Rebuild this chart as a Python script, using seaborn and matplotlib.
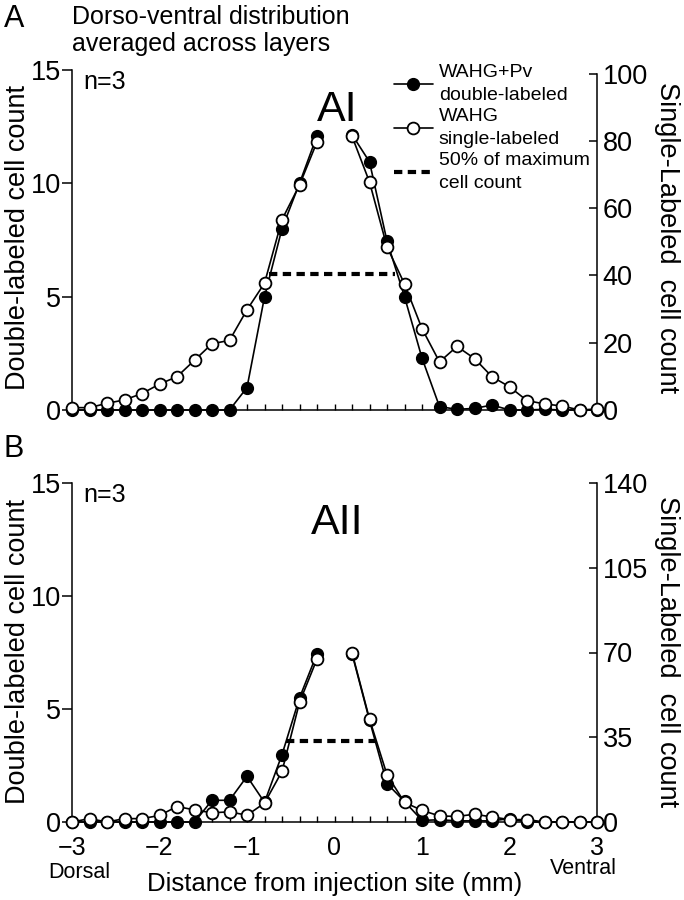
import numpy as np
import pandas as pd
import matplotlib
matplotlib.use("Agg")
import matplotlib.pyplot as plt
from matplotlib.lines import Line2D
from matplotlib.ticker import MultipleLocator
import seaborn as sns

# ---------------- data ----------------
positions = [-3.0, -2.8, -2.6, -2.4, -2.2, -2.0, -1.8, -1.6, -1.4, -1.2, -1.0, -0.8, -0.6, -0.4, -0.2,
             0.2, 0.4, 0.6, 0.8, 1.0, 1.2, 1.4, 1.6, 1.8, 2.0, 2.2, 2.4, 2.6, 2.8, 3.0]

A_double = [0, 0, 0, 0, 0, 0, 0, 0, 0, 0, 0.99, 4.99, 8.0, 10.0, 12.1,
            12.15, 10.95, 7.45, 5.0, 2.29, 0.15, 0.03, 0.07, 0.22, 0, 0, 0.03, 0, 0, 0]
A_single = [0.7, 0.7, 2.0, 3.0, 4.9, 7.7, 9.9, 14.8, 19.7, 20.7, 29.8, 37.7, 56.6, 66.9, 79.7,
            81.4, 67.8, 48.5, 37.5, 24.2, 14.3, 18.9, 15.3, 9.9, 6.9, 2.8, 1.8, 1.2, 0, 0.3]
A_half_value = 6.0
A_half_span = [-0.75, 0.69]

B_double = [0, 0, 0, 0, 0, 0, 0, 0, 0.96, 0.96, 2.02, 0.87, 2.98, 5.49, 7.45,
            7.45, 4.5, 1.70, 0.91, 0.07, 0.1, 0.05, 0.05, 0.05, 0.15, 0, 0, 0, 0, 0]
B_single = [0, 1.4, 0, 1.4, 1.4, 2.7, 6.4, 5.0, 3.8, 4.2, 2.8, 7.8, 20.9, 49.4, 67.3,
            70.0, 42.5, 19.5, 8.1, 4.8, 2.5, 2.3, 3.2, 2.1, 1.0, 1.0, 0, 0, 0, 0]
B_half_value = 3.6
B_half_span = [-0.55, 0.46]

left_ticks = [0, 5, 10, 15]
A_right_ticks = [0, 20, 40, 60, 80, 100]
B_right_ticks = [0, 35, 70, 105, 140]
x_ticks = [-3, -2, -1, 0, 1, 2, 3]

legend_labels = ["WAHG+Pv\ndouble-labeled", "WAHG\nsingle-labeled", "50% of maximum\ncell count"]

# ---------------- style ----------------
sns.set_style("ticks")
plt.rcParams["font.family"] = ["Liberation Sans", "DejaVu Sans"]
for key in ("text.color", "axes.labelcolor", "xtick.color", "ytick.color", "axes.edgecolor"):
    plt.rcParams[key] = "black"
plt.rcParams["axes.linewidth"] = 1.1

W, H = 684, 900
fig = plt.figure(figsize=(W / 100, H / 100), dpi=100)


def fx(px):
    return px / W


def fy(py):
    return 1 - py / H


def panel(top_px, bottom_px, dbl, sgl, rticks, rtop, half_val, half_span, title, show_xlabels):
    ax = fig.add_axes([fx(72), fy(bottom_px), fx(597) - fx(72), fy(top_px) - fy(bottom_px)])
    df = pd.DataFrame({"x": positions, "double": dbl, "single": sgl})
    df["side"] = np.where(df["x"] < 0, "dorsal", "ventral")

    sns.lineplot(data=df, x="x", y="double", units="side", estimator=None, ax=ax,
                 color="black", lw=1.2, marker="o", markersize=8.5,
                 markerfacecolor="black", markeredgecolor="black", markeredgewidth=1.0,
                 clip_on=False, legend=False, zorder=3)
    sns.lineplot(x=half_span, y=[half_val, half_val], ax=ax, color="black", lw=3.0,
                 ls=(0, (2.0, 1.3)), legend=False, zorder=2)

    ax2 = ax.twinx()
    sns.lineplot(data=df, x="x", y="single", units="side", estimator=None, ax=ax2,
                 color="black", lw=1.2, marker="o", markersize=8.5,
                 markerfacecolor="white", markeredgecolor="black", markeredgewidth=1.3,
                 clip_on=False, legend=False, zorder=3)

    ax.set_xlim(-3, 3)
    ax.set_ylim(0, 15)
    ax2.set_ylim(0, rtop)
    ax.set_yticks(left_ticks)
    ax2.set_yticks(rticks)
    ax.set_xticks(x_ticks)
    ax.xaxis.set_minor_locator(MultipleLocator(0.2))
    ax.set_xlabel("")
    ax.set_ylabel("")
    ax2.set_ylabel("")
    ax2.set_xlabel("")

    for a in (ax, ax2):
        a.spines["top"].set_visible(False)
        for s in a.spines.values():
            s.set_linewidth(1.1)
            s.set_color("black")
    ax.spines["right"].set_visible(False)
    ax2.spines["left"].set_visible(False)
    ax2.spines["bottom"].set_visible(False)
    ax2.spines["right"].set_bounds(0, rticks[-1])

    ax.tick_params(axis="y", direction="out", length=7, width=1.1, labelsize=19.5, pad=1)
    ax2.tick_params(axis="y", direction="in", length=6, width=1.1, labelsize=19.5, pad=4)
    ax.tick_params(axis="x", which="both", direction="in", length=4, width=1.0,
                   labelsize=18, pad=10, labelbottom=show_xlabels)

    ax.text(0.022, 1.0, "n=3", transform=ax.transAxes, fontsize=18, va="top", ha="left")
    ax.text(0.505, 0.94, title, transform=ax.transAxes, fontsize=31, va="top", ha="center")
    return ax, ax2


axA, axA2 = panel(70, 410, A_double, A_single, A_right_ticks, 101.1,
                  A_half_value, A_half_span, "AI", False)
axB, axB2 = panel(483, 822, B_double, B_single, B_right_ticks, 140,
                  B_half_value, B_half_span, "AII", True)

# legend
handles = [
    Line2D([], [], color="black", lw=1.2, marker="o", markersize=8.5,
           markerfacecolor="black", markeredgecolor="black"),
    Line2D([], [], color="black", lw=1.2, marker="o", markersize=8.5,
           markerfacecolor="white", markeredgecolor="black", markeredgewidth=1.3),
    Line2D([], [], color="black", lw=3.0, ls=(0, (2.0, 1.3))),
]
leg = fig.legend(handles, legend_labels, loc="upper left", bbox_to_anchor=(fx(394), fy(64)),
                 frameon=False, fontsize=14, handlelength=2.0, handletextpad=0.3,
                 labelspacing=0.2, borderpad=0, borderaxespad=0, numpoints=1)
for t in leg.get_texts():
    t.set_linespacing(1.48)

# figure texts
fig.text(fx(4), fy(27), "A", fontsize=22, ha="left", va="baseline")
fig.text(fx(72), fy(24), "Dorso-ventral distribution", fontsize=18, ha="left", va="baseline")
fig.text(fx(72), fy(51), "averaged across layers", fontsize=18, ha="left", va="baseline")
fig.text(fx(4), fy(457), "B", fontsize=22, ha="left", va="baseline")

for cy in (238, 652):
    fig.text(fx(18), fy(cy), "Double-labeled cell count", fontsize=19.5, rotation=90,
             ha="center", va="center")
    fig.text(fx(667), fy(cy), "Single-Labeled  cell count", fontsize=19.5, rotation=270,
             ha="center", va="center")

fig.text(fx(79), fy(873), "Dorsal", fontsize=15.5, ha="center", va="center")
fig.text(fx(583), fy(868), "Ventral", fontsize=15.5, ha="center", va="center")
fig.text(fx(335), fy(884), "Distance from injection site (mm)", fontsize=18.5, ha="center", va="center")

fig.savefig("out.png", dpi=100)
